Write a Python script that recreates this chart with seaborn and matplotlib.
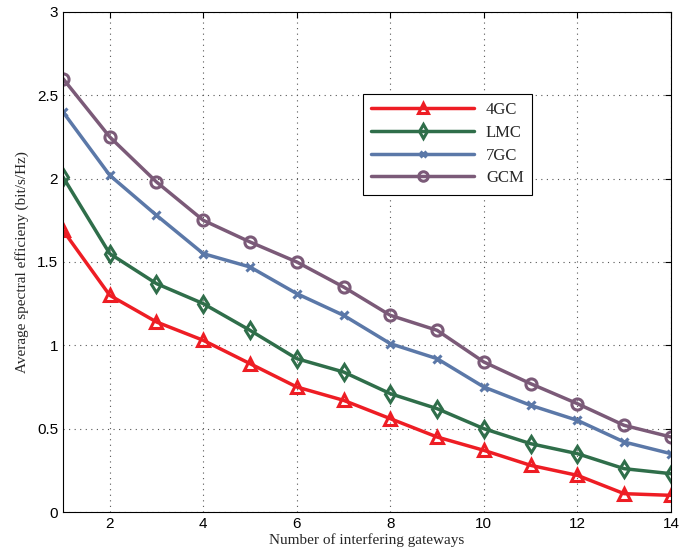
import matplotlib
matplotlib.use("Agg")
import matplotlib.pyplot as plt
import seaborn as sns
import pandas as pd

gateways = list(range(1, 15))
gc4 = [1.69, 1.30, 1.14, 1.03, 0.89, 0.75, 0.67, 0.56, 0.45, 0.37, 0.28, 0.22, 0.11, 0.10]
lmc = [2.01, 1.55, 1.37, 1.25, 1.09, 0.92, 0.84, 0.71, 0.62, 0.50, 0.41, 0.35, 0.26, 0.23]
gc7 = [2.40, 2.02, 1.78, 1.55, 1.47, 1.31, 1.18, 1.01, 0.92, 0.75, 0.64, 0.55, 0.42, 0.35]
gcm = [2.60, 2.25, 1.98, 1.75, 1.62, 1.50, 1.35, 1.18, 1.09, 0.90, 0.77, 0.65, 0.52, 0.45]
series_names = ["4GC", "LMC", "7GC", "GCM"]
xticks = [2, 4, 6, 8, 10, 12, 14]
yticks = [0, 0.5, 1, 1.5, 2, 2.5, 3]
ytick_labels = ["0", "0.5", "1", "1.5", "2", "2.5", "3"]

sns.set_style("white")
plt.rcParams['font.family'] = ['Liberation Sans', 'DejaVu Sans']

df = pd.DataFrame({
    "x": gateways * 4,
    "y": gc4 + lmc + gc7 + gcm,
    "series": sum([[n] * len(gateways) for n in series_names], []),
})

colors = {"4GC": "#ee1d24", "LMC": "#2f6e4a", "7GC": "#5b78a8", "GCM": "#7b5a78"}
markers = {"4GC": "^", "LMC": "d", "7GC": "x", "GCM": "o"}
msizes = {"4GC": 8.5, "LMC": 8.5, "7GC": 5.5, "GCM": 8}

fig = plt.figure(figsize=(6.8, 5.6), dpi=100)
ax = fig.add_axes([0.0926, 0.0857, 0.894, 0.893])

for name in series_names:
    sub = df[df["series"] == name]
    sns.lineplot(data=sub, x="x", y="y", ax=ax, color=colors[name], linewidth=2.5,
                 marker=markers[name], markersize=msizes[name], markerfacecolor="none",
                 markeredgecolor=colors[name], markeredgewidth=2.2, label=name)

ax.set_xlim(1, 14)
ax.set_ylim(0, 3)
ax.set_xticks(xticks)
ax.set_xticklabels([str(t) for t in xticks], fontsize=11)
ax.set_yticks(yticks)
ax.set_yticklabels(ytick_labels, fontsize=11)
ax.tick_params(direction="in", top=True, right=True, length=4, width=0.8, colors="black")
ax.grid(True, linestyle=(0, (1, 4)), color="#555555", linewidth=0.8)
for s in ax.spines.values():
    s.set_visible(True)
    s.set_color("black")
    s.set_linewidth(0.8)

ax.set_xlabel("Number of interfering gateways", fontsize=11, family=["Liberation Serif", "DejaVu Serif"], labelpad=2)
ax.set_ylabel("Average spectral efficieny (bit/s/Hz)", fontsize=11, family=["Liberation Serif", "DejaVu Serif"], labelpad=6)

leg = ax.legend(loc="upper left", bbox_to_anchor=(0.493, 0.836), frameon=True, fancybox=False,
                edgecolor="black", framealpha=1, handlelength=6.2, handletextpad=0.7,
                borderpad=0.5, borderaxespad=0, markerscale=0.85,
                labelspacing=0.4, prop={"family": ["Liberation Serif", "DejaVu Serif"], "size": 12})
leg.get_frame().set_linewidth(0.8)

fig.savefig("out.png", dpi=100)
